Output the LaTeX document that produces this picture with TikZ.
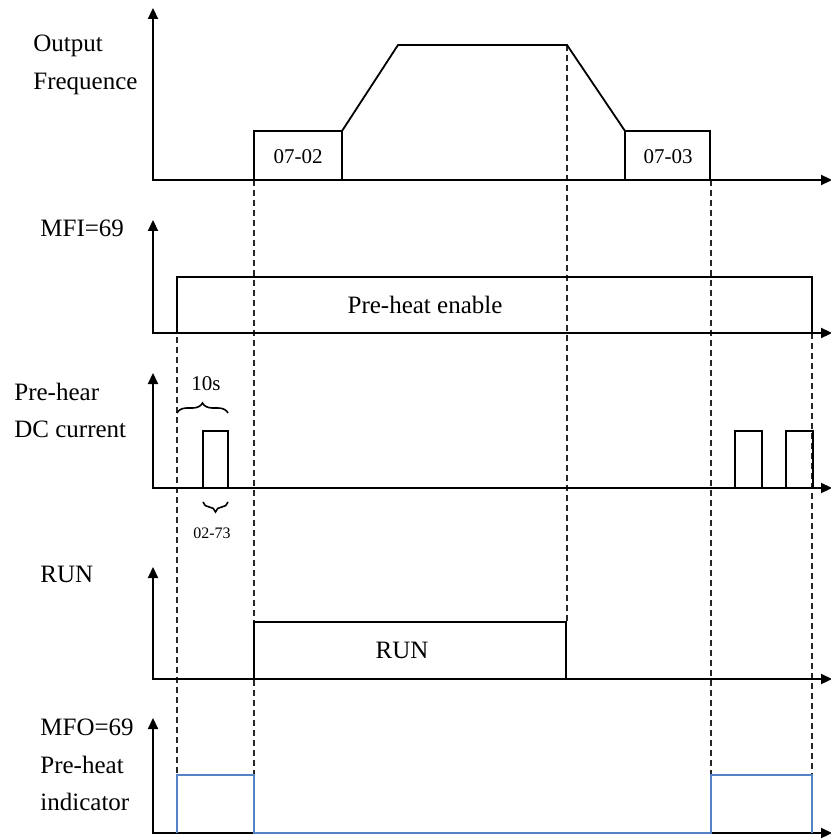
\documentclass[tikz,border=0pt]{standalone}
\usepackage{fontspec}
\setmainfont{Liberation Serif}
\usetikzlibrary{arrows.meta,decorations.pathreplacing}
\definecolor{IndBlue}{RGB}{84,130,198}
\tikzset{
  ax/.style={draw=black,line width=1.1pt,
    {Triangle[length=5.5pt,width=5pt]}-{Triangle[length=5.5pt,width=5pt]}},
  sig/.style={draw=black,line width=0.9pt},
  ind/.style={draw=IndBlue,line width=0.9pt},
  guide/.style={draw=black!85,line width=0.6pt,dash pattern=on 3pt off 2pt},
  lbl/.style={anchor=base west,inner sep=0pt,font=\fontsize{12.5}{14}\selectfont},
  tag/.style={inner sep=0pt,font=\fontsize{10.5}{12}\selectfont},
  br/.style={decorate,decoration={brace,amplitude=5pt},line width=0.8pt},
}
\begin{document}
\begin{tikzpicture}[x=0.5pt,y=-0.5pt]
\useasboundingbox (0,0) rectangle (830,839);
\draw[guide] (177,277) -- (177,775);
\draw[guide] (254,180) -- (254,775);
\draw[guide] (567,45) -- (567,622);
\draw[guide] (711,180) -- (711,775);
\draw[guide] (812,333) -- (812,775);
\draw[ax] (153,8) -- (153,180) -- (832,180);
\draw[ax] (153,220) -- (153,333) -- (832,333);
\draw[ax] (153,373) -- (153,488) -- (832,488);
\draw[ax] (153,567) -- (153,679) -- (832,679);
\draw[ax] (153,718) -- (153,833) -- (832,833);
\draw[sig] (254,180) -- (254,131) -- (342,131) -- (398,45) -- (567,45)
  -- (625,131) -- (710,131) -- (710,180);
\draw[sig] (342,131) -- (342,180);
\draw[sig] (625,131) -- (625,180);
\draw[sig] (177,333) -- (177,277) -- (812,277) -- (812,333);
\draw[sig] (203,488) -- (203,431) -- (228,431) -- (228,488);
\draw[sig] (735,488) -- (735,431) -- (762,431) -- (762,488);
\draw[sig] (786,488) -- (786,431) -- (813,431) -- (813,488);
\draw[sig] (254,679) -- (254,622) -- (566,622) -- (566,679);
\draw[ind] (177,833) -- (177,775) -- (254,775) -- (254,833) -- (711,833)
  -- (711,775) -- (812,775) -- (812,833);
\draw[br] (177,413) -- (228,413);
\draw[br] (228,502) -- (203,502);
\node[lbl] (outL) at (33,52) {Output};
\node[lbl] (freqL) at (33,90) {Frequence};
\node[lbl] (mfiL) at (40,237) {MFI=69};
\node[lbl] (preL) at (14,400) {Pre-hear};
\node[lbl] (dcL) at (14,437) {DC current};
\node[lbl] (runL) at (40,582) {RUN};
\node[lbl] (mfoL) at (40,735) {MFO=69};
\node[lbl] (phL) at (40,773) {Pre-heat};
\node[lbl] (indL) at (40,810) {indicator};
\node[tag] (accT) at (298,157) {07-02};
\node[tag] (decT) at (668,157) {07-03};
\node[tag,font=\fontsize{12.5}{14}\selectfont] (enT) at (425,305) {Pre-heat enable};
\node[tag,font=\fontsize{10.5}{12}\selectfont] (tenT) at (206,384) {10s};
\node[tag,font=\fontsize{8}{10}\selectfont] (dwT) at (212,533) {02-73};
\node[tag,font=\fontsize{12.5}{14}\selectfont] (runT) at (402,650) {RUN};
\end{tikzpicture}
\end{document}
